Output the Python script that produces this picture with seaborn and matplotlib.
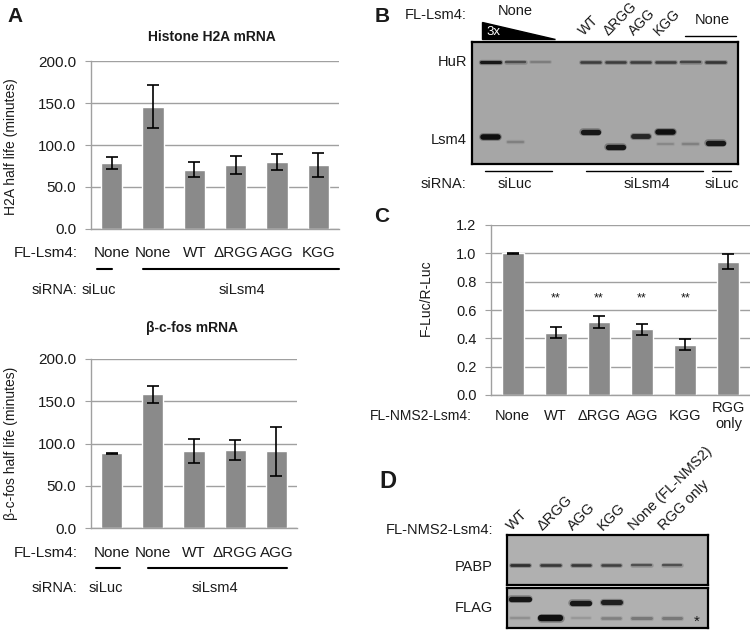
import matplotlib
matplotlib.use("Agg")
import matplotlib.pyplot as plt
import seaborn as sns
from matplotlib.ticker import FormatStrFormatter, MultipleLocator
from matplotlib.patches import Polygon
from matplotlib.lines import Line2D

# ---- data ----
# A (top): histone H2A mRNA half life
h2a_labels = ["None", "None", "WT", "ΔRGG", "AGG", "KGG"]
h2a_mean = [78.5, 145.5, 70.5, 76.5, 79.5, 76.5]
h2a_err = [7, 25.5, 9, 11, 9.5, 14]

# A (bottom): beta-c-fos mRNA half life
fos_labels = ["None", "None", "WT", "ΔRGG", "AGG"]
fos_mean = [88.5, 158, 91, 92, 91]
fos_err = [0.8, 10.5, 14.5, 12, 29]

# C: tethering assay
luc_labels = ["None", "WT", "ΔRGG", "AGG", "KGG", "RGG\nonly"]
luc_mean = [1.0, 0.44, 0.515, 0.463, 0.355, 0.942]
luc_err = [0.004, 0.04, 0.045, 0.037, 0.037, 0.055]
luc_sig = ["", "**", "**", "**", "**", ""]

# B: western blot (lane index, band row 0=top..1=bottom, darkness 0..1)
b_lane_labels = ["WT", "ΔRGG", "AGG", "KGG"]
b_hur_level = [0.95, 0.6, 0.3, 0, 0.7, 0.7, 0.7, 0.7, 0.65, 0.75]
b_lsm4_lane = [0, 1, 4, 5, 6, 7, 7, 8, 9]
b_lsm4_pos = [0.78, 0.82, 0.74, 0.86, 0.77, 0.74, 0.84, 0.84, 0.83]
b_lsm4_level = [1.0, 0.25, 0.95, 0.95, 0.85, 1.0, 0.2, 0.25, 0.95]

# D: western blot
d_lane_labels = ["WT", "ΔRGG", "AGG", "KGG", "None (FL-NMS2)", "RGG only"]
d_pabp_level = [0.8, 0.75, 0.75, 0.7, 0.6, 0.6]
d_flag_up_lane = [0, 2, 3]
d_flag_up_pos = [0.28, 0.38, 0.35]
d_flag_up_level = [0.95, 0.95, 0.9]
d_flag_low_level = [0.2, 1.0, 0.15, 0.3, 0.35, 0.35]

# ---- style ----
sns.set_style("white")
plt.rcParams["font.family"] = ["Liberation Sans", "DejaVu Sans"]
BAR = "#8a8a8a"
GRID = "#a0a0a0"
INK = "#1a1a1a"
FS = 10.5

W, H = 750, 630
fig = plt.figure(figsize=(7.5, 6.3), dpi=100)


def px_axes(l, t, r, b):
    return fig.add_axes([l / W, 1 - b / H, (r - l) / W, (b - t) / H])


def ftext(x, y, s, **kw):
    kw.setdefault("fontsize", FS)
    kw.setdefault("color", INK)
    kw.setdefault("va", "center")
    kw.setdefault("ha", "center")
    fig.text(x / W, 1 - y / H, s, **kw)


def fline(x0, x1, y, lw=1.5, color="black"):
    fig.add_artist(Line2D([x0 / W, x1 / W], [1 - y / H, 1 - y / H],
                          color=color, lw=lw))


def bar_panel(ax, labels, mean, err, ymax, step, fmt, fs, label_y_px, box):
    idx = list(range(len(mean)))
    sns.barplot(x=idx, y=mean, color=BAR, saturation=1, width=0.51, ax=ax)
    ax.errorbar(idx, mean, yerr=err, fmt="none", ecolor="black",
                elinewidth=1.2, capsize=4.5, capthick=1.2)
    ax.set_xlim(-0.5, len(mean) - 0.5)
    ax.set_ylim(0, ymax)
    ax.yaxis.set_major_locator(MultipleLocator(step))
    ax.yaxis.set_major_formatter(FormatStrFormatter(fmt))
    ax.grid(axis="y", color=GRID, lw=1)
    ax.set_axisbelow(True)
    ax.set_xticks([])
    ax.set_xlabel("")
    ax.set_ylabel("")
    ax.tick_params(axis="y", left=True, length=4.5, color=GRID,
                   labelsize=fs, labelcolor=INK, pad=6)
    for s in ["top", "right"]:
        ax.spines[s].set_visible(False)
    for s in ["left", "bottom"]:
        ax.spines[s].set_color(GRID)
        ax.spines[s].set_linewidth(1)
    # category labels under the bars
    t, b = box
    ya = -(label_y_px - b) / (b - t)
    for i, lab in enumerate(labels):
        ax.text(i, ya, lab, transform=ax.get_xaxis_transform(),
                ha="center", va="center", fontsize=fs, color=INK)


# ---- A top ----
ax1 = px_axes(91, 61, 339, 229)
bar_panel(ax1, h2a_labels, h2a_mean, h2a_err, 200, 50, "%.1f", 11, 253, (61, 229))
ftext(15, 17, "A", fontsize=15, fontweight="bold")
ftext(212, 37, "Histone H2A mRNA", fontsize=10, fontweight="bold")
ftext(11, 147, "H2A half life (minutes)", rotation=90, fontsize=10)
ftext(78, 253, "FL-Lsm4:", ha="right", fontsize=11)
fline(97, 112, 269)
fline(143, 339, 269)
ftext(77, 290, "siRNA:", ha="right", fontsize=10.5)
ftext(99, 290, "siLuc", fontsize=10.5)
ftext(242, 290, "siLsm4", fontsize=10.5)

# ---- A bottom ----
ax2 = px_axes(91, 359, 297, 528)
bar_panel(ax2, fos_labels, fos_mean, fos_err, 200, 50, "%.1f", 11, 553, (359, 528))
ftext(192, 328, "β-c-fos mRNA", fontsize=10, fontweight="bold")
ftext(11, 443, "β-c-fos half life (minutes)", rotation=90, fontsize=10)
ftext(78, 553, "FL-Lsm4:", ha="right", fontsize=11)
fline(96, 120, 568)
fline(148, 287, 568)
ftext(77, 588, "siRNA:", ha="right", fontsize=10.5)
ftext(106, 588, "siLuc", fontsize=10.5)
ftext(215, 588, "siLsm4", fontsize=10.5)

# ---- C ----
ax3 = px_axes(491, 225, 750, 395)
bar_panel(ax3, luc_labels, luc_mean, luc_err, 1.2, 0.2, "%.1f", 10.5, 416, (225, 395))
for i, s in enumerate(luc_sig):
    if s:
        ax3.text(i, 0.68, s, ha="center", va="center", fontsize=9, color=INK)
ftext(382, 216, "C", fontsize=15, fontweight="bold")
ftext(426, 298, "F-Luc/R-Luc", rotation=90, fontsize=10)
ftext(472, 416, "FL-NMS2-Lsm4:", ha="right", fontsize=10)


# ---- blots ----
def blot_axes(l, t, r, b, lane0_px, lane_step_px, bg):
    ax = px_axes(l, t, r, b)
    ax.set_facecolor(bg)
    ax.set_xlim((l - lane0_px) / lane_step_px, (r - lane0_px) / lane_step_px)
    ax.set_ylim(1, 0)
    ax.set_xticks([])
    ax.set_yticks([])
    for s in ax.spines.values():
        s.set_visible(True)
        s.set_color("black")
        s.set_linewidth(1.6)
    return ax


def band(ax, lane, pos, level, bg, half=0.36, base=1.2, gain=3.0):
    if level <= 0:
        return
    g = bg - level * (bg - 0.06)
    lw = base + gain * level
    # soft halo, then the band itself
    ax.plot([lane - half, lane + half], [pos, pos], color=str((g + bg) / 2),
            lw=lw + 1.6, solid_capstyle="round", alpha=0.6)
    ax.plot([lane - half, lane + half], [pos, pos], color=str(g),
            lw=lw, solid_capstyle="round")


# B
BG_B = 0.65
axb = blot_axes(472, 42, 738, 164, 490, 25, str(BG_B))
for lane, lev in enumerate(b_hur_level):
    band(axb, lane, 0.16, lev, BG_B, half=0.38, base=0.8, gain=1.5)
for lane, pos, lev in zip(b_lsm4_lane, b_lsm4_pos, b_lsm4_level):
    band(axb, lane, pos, lev, BG_B, half=0.3, base=0.8, gain=3.2)

ftext(382, 17, "B", fontsize=15, fontweight="bold")
ftext(467, 15, "FL-Lsm4:", ha="right")
ftext(515, 11, "None")
fig.add_artist(Polygon([[482 / W, 1 - 22 / H], [482 / W, 1 - 39 / H],
                        [555 / W, 1 - 39 / H]], closed=True,
                       facecolor="black", edgecolor="black"))
ftext(486, 32, "3x", ha="left", color="white", fontsize=9.5)
for k, lab in enumerate(b_lane_labels):
    xl = 490 + 25 * (k + 4) - 4
    ftext(xl, 38, lab, ha="left", va="bottom", rotation=45,
          rotation_mode="anchor", fontsize=10)
ftext(712, 20, "None")
fline(685, 736, 36, lw=1)
ftext(467, 62, "HuR", ha="right")
ftext(467, 140, "Lsm4", ha="right")
fline(485, 552, 171, lw=1)
fline(586, 703, 171, lw=1)
fline(712, 731, 171, lw=1)
ftext(466, 184, "siRNA:", ha="right")
ftext(515, 184, "siLuc")
ftext(647, 184, "siLsm4")
ftext(722, 184, "siLuc")

# D
BG_D = 0.69
axp = blot_axes(507, 535, 708, 585, 520, 30.4, str(BG_D))
for lane, lev in enumerate(d_pabp_level):
    band(axp, lane, 0.6, lev, BG_D, half=0.3, base=0.7, gain=1.6)
axf = blot_axes(507, 588, 708, 628, 520, 30.4, str(BG_D))
for lane, pos, lev in zip(d_flag_up_lane, d_flag_up_pos, d_flag_up_level):
    band(axf, lane, pos, lev, BG_D, half=0.28, base=0.8, gain=3.2)
for lane, lev in enumerate(d_flag_low_level):
    band(axf, lane, 0.75, lev, BG_D, half=0.3, base=0.8, gain=3.8)

ftext(388, 482, "D", fontsize=17, fontweight="bold")
ftext(493, 530, "FL-NMS2-Lsm4:", ha="right")
for k, lab in enumerate(d_lane_labels):
    xl = 520 + 30.4 * k - 6
    ftext(xl, 533, lab, ha="left", va="bottom", rotation=45,
          rotation_mode="anchor")
ftext(493, 567, "PABP", ha="right")
ftext(493, 608, "FLAG", ha="right")
ftext(697, 622, "*", fontsize=11)

fig.savefig("out.png", dpi=100)
